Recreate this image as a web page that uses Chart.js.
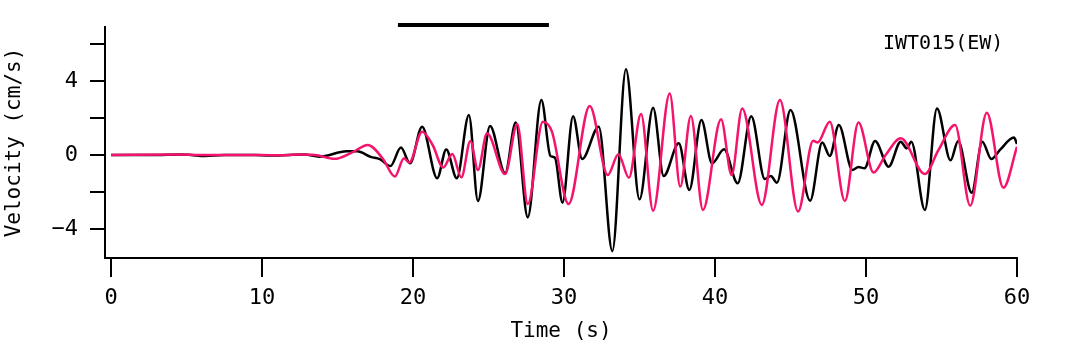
<!DOCTYPE html>
<html>
<head>
<meta charset="utf-8">
<script src="https://cdn.jsdelivr.net/npm/chart.js@4.4.1/dist/chart.umd.min.js"></script>
<style>
  html, body { margin: 0; padding: 0; background: #fff; }
  #wrap { width: 1077px; height: 344px; }
</style>
</head>
<body>
<div id="wrap"><canvas id="velChart" width="1077" height="344"></canvas></div>
<script>
// observed velocity (black): time (s) / velocity (cm/s)
const BLACK_T = [0, 3, 4.5, 5.3, 6.2, 7.5, 9.5, 10.5, 11.8, 12.8, 13.8, 15.6, 16.3, 17.2, 17.8, 18.5, 19.2, 19.8,
  20.6, 21.6, 22.2, 22.9, 23.7, 24.3, 25.1, 26.1, 26.8, 27.6, 28.5, 29.1, 29.4, 29.9, 30.6, 31.2, 32.3, 33.2,
  34.1, 35.0, 35.9, 36.6, 37.6, 38.3, 39.1, 39.8, 40.6, 41.5, 42.4, 43.3, 43.7, 44.1, 45.0, 46.3, 47.1, 47.6,
  48.2, 49.1, 49.5, 49.9, 50.6, 51.5, 52.3, 52.7, 53.0, 53.9, 54.7, 55.6, 56.1, 57.0, 57.7, 58.3, 58.9, 59.8, 60];
const BLACK_V = [0, 0, 0.03, 0, -0.05, 0, 0, -0.03, 0, 0.02, -0.09, 0.2, 0.2, -0.1, -0.22, -0.6, 0.4, -0.45,
  1.53, -1.26, 0.3, -1.26, 2.16, -2.49, 1.57, -0.99, 1.75, -3.37, 2.97, -0.05, -0.15, -2.58, 2.1, -0.22, 1.53, -5.2,
  4.63, -2.4, 2.56, -1.14, 0.63, -1.89, 1.89, -0.45, 0.31, -1.53, 2.1, -1.3, -1.14, -1.5, 2.43, -2.47, 0.67, -0.05,
  1.62, -0.81, -0.65, -0.72, 0.76, -0.63, 0.72, 0.36, 0.72, -2.97, 2.52, -0.29, 0.76, -2.04, 0.72, -0.22, 0.3, 0.94, 0.6];

// synthetic velocity (pink)
const PINK_T = [0, 4.5, 6, 10, 11, 12.5, 13.5, 14.8, 16, 17.0, 18.0, 18.8, 19.4, 19.75, 20.6, 21.3, 22.0, 22.6,
  23.2, 23.8, 24.3, 24.9, 26.1, 26.9, 27.6, 28.6, 29.2, 30.3, 31.7, 32.9, 33.6, 34.3, 35.1, 35.9, 37.0, 37.7,
  38.4, 39.2, 40.4, 41.1, 41.8, 43.1, 44.3, 45.5, 46.5, 46.8, 47.6, 48.6, 49.5, 50.5, 51.3, 52.3, 53.9, 54.8,
  55.9, 56.9, 58.0, 59.1, 60];
const PINK_V = [0, 0.02, 0, 0, -0.02, 0.02, 0, -0.21, 0.15, 0.54, -0.2, -1.17, -0.18, -0.41, 1.26, 0.54, -0.68, 0.05,
  -1.21, 0.76, -0.81, 1.17, -1.03, 1.68, -2.65, 1.8, 1.26, -2.65, 2.65, -1.08, 0.04, -1.23, 2.22, -3.01, 3.33, -1.71,
  2.11, -2.97, 1.93, -1.08, 2.52, -2.7, 2.97, -3.06, 0.77, 0.68, 1.8, -2.49, 1.75, -0.95, 0, 0.9, -1.03, 0.27,
  1.62, -2.74, 2.29, -1.77, 0.45];

// time window bar drawn above the plot
const BAR_T = [19, 29];
const BAR_V = [7.03, 7.03];

const X_TICKS = [0, 10, 20, 30, 40, 50, 60];
const Y_TICKS = [-4, -2, 0, 2, 4, 6];
const Y_LABELED = [-4, 0, 4];

const STATION = 'IWT015(EW)';
const STATION_T = 59.1;
const STATION_V = 6.0;

const FONT = "'DejaVu Sans Mono', monospace";

function toPoints(ts, vs) {
  return ts.map((t, i) => ({ x: t, y: vs[i] }));
}

const stationLabel = {
  id: 'stationLabel',
  afterDatasetsDraw(chart) {
    const { ctx, scales } = chart;
    ctx.save();
    ctx.font = '20px ' + FONT;
    ctx.fillStyle = '#000';
    ctx.textAlign = 'right';
    ctx.textBaseline = 'middle';
    ctx.fillText(STATION, scales.x.getPixelForValue(STATION_T), scales.y.getPixelForValue(STATION_V));
    ctx.restore();
  }
};

new Chart(document.getElementById('velChart').getContext('2d'), {
  type: 'line',
  data: {
    datasets: [
      {
        label: 'synthetic',
        data: toPoints(PINK_T, PINK_V),
        borderColor: '#f5146c',
        borderWidth: 2.5,
        pointRadius: 0,
        cubicInterpolationMode: 'monotone',
        order: 0
      },
      {
        label: 'observed',
        data: toPoints(BLACK_T, BLACK_V),
        borderColor: '#000',
        borderWidth: 2.5,
        pointRadius: 0,
        cubicInterpolationMode: 'monotone',
        order: 1
      },
      {
        label: 'window',
        data: toPoints(BAR_T, BAR_V),
        borderColor: '#000',
        borderWidth: 4,
        pointRadius: 0,
        clip: false,
        order: 2
      }
    ]
  },
  options: {
    responsive: false,
    devicePixelRatio: 1,
    animation: false,
    layout: { padding: { top: 27, right: 60, left: 0, bottom: 0 } },
    plugins: { legend: { display: false }, tooltip: { enabled: false } },
    scales: {
      x: {
        type: 'linear',
        min: -0.4,
        max: 60,
        afterBuildTicks: s => { s.ticks = X_TICKS.map(v => ({ value: v })); },
        afterFit: s => { s.height = 86; },
        grid: { drawOnChartArea: false, tickLength: 19, color: '#000', lineWidth: 2 },
        border: { display: true, color: '#000', width: 2 },
        ticks: { color: '#000', font: { family: FONT, size: 22 }, padding: 8, maxRotation: 0 },
        title: { display: true, text: 'Time (s)', color: '#000', font: { family: FONT, size: 21 }, padding: { top: 0, bottom: 0 } }
      },
      y: {
        min: -5.57,
        max: 6.92,
        afterBuildTicks: s => { s.ticks = Y_TICKS.map(v => ({ value: v })); },
        afterFit: s => { s.width = 105; },
        grid: { drawOnChartArea: false, tickLength: 15, color: '#000', lineWidth: 2 },
        border: { display: true, color: '#000', width: 2 },
        ticks: {
          color: '#000',
          font: { family: FONT, size: 22 },
          padding: 12,
          callback: v => (Y_LABELED.includes(v) ? String(v).replace('-', '\u2212') : '')
        },
        title: { display: true, text: 'Velocity (cm/s)', color: '#000', font: { family: FONT, size: 21 }, padding: { top: 2, bottom: 0 } }
      }
    }
  },
  plugins: [stationLabel]
});
</script>
</body>
</html>
